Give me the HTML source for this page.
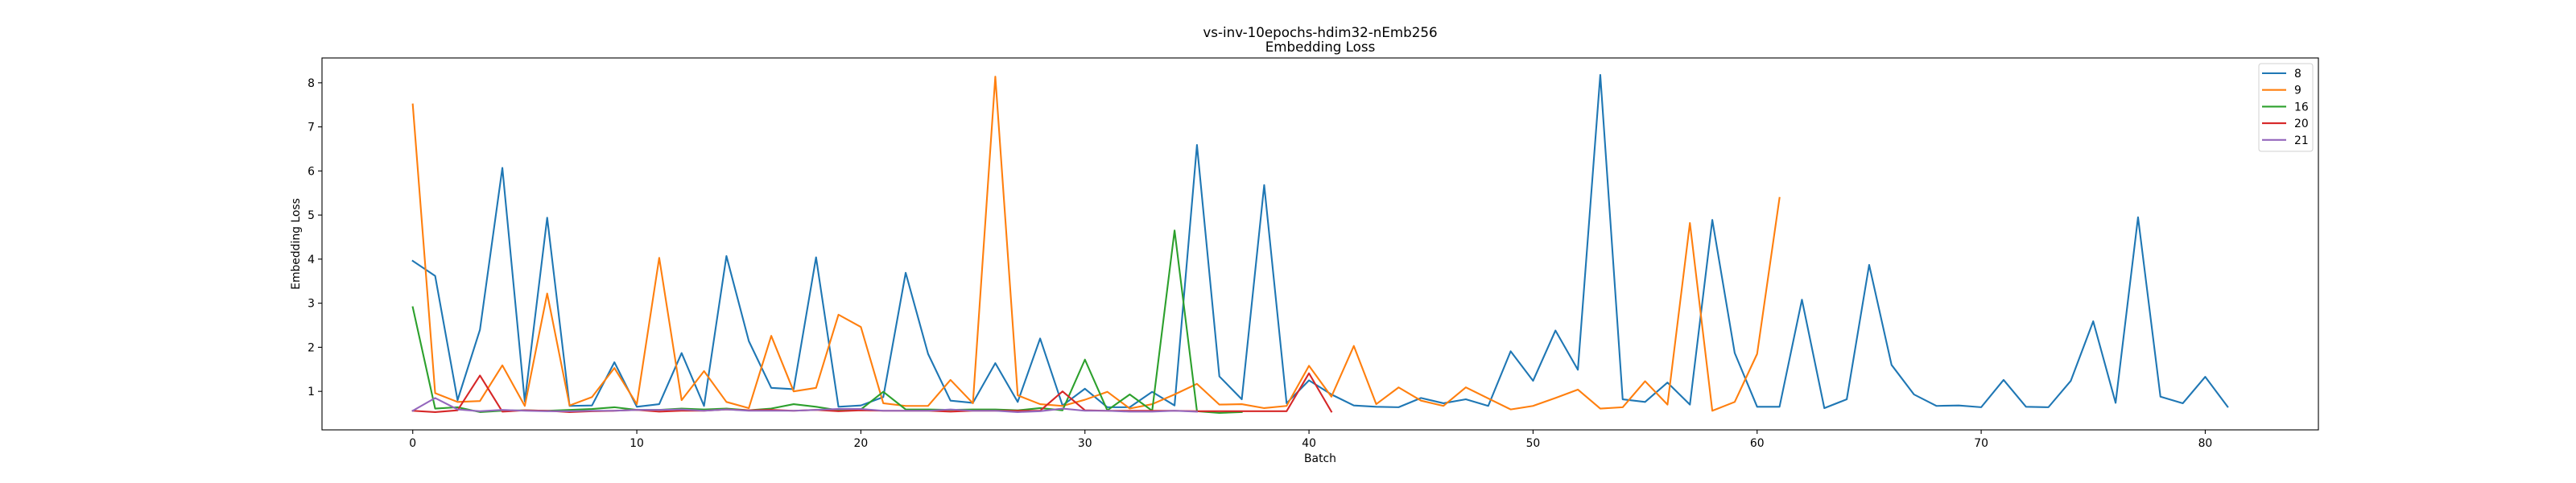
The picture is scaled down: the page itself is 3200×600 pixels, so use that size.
<!DOCTYPE html>
<html><head><meta charset="utf-8"><style>
html,body{margin:0;padding:0;background:#fff;}
svg{display:block;font-family:"DejaVu Sans","Liberation Sans",sans-serif;}
</style></head><body>
<svg id="chart" width="3200" height="600" viewBox="0 0 3200 600">
<rect x="0" y="0" width="3200" height="600" fill="#fff"/>
<text x="1640" y="46" font-size="16.7" text-anchor="middle">vs-inv-10epochs-hdim32-nEmb256</text>
<text x="1640" y="64" font-size="16.7" text-anchor="middle">Embedding Loss</text>
<g id="plot"></g>
<text x="1640" y="574" font-size="13.9" text-anchor="middle">Batch</text>
<text x="0" y="0" font-size="13.9" text-anchor="middle" transform="translate(372,303) rotate(-90)">Embedding Loss</text>
</svg>
<script>
const seriesNames = ["8","9","16","20","21"];
const seriesColors = ["#1f77b4","#ff7f0e","#2ca02c","#d62728","#9467bd"];
const s8 = [3.96,3.62,0.80,2.40,6.07,0.77,4.94,0.67,0.68,1.66,0.65,0.71,1.87,0.67,4.07,2.14,1.08,1.05,4.04,0.65,0.68,0.87,3.69,1.85,0.79,0.74,1.64,0.76,2.20,0.68,1.06,0.64,0.64,0.99,0.68,6.59,1.34,0.82,5.68,0.73,1.25,0.93,0.68,0.65,0.64,0.85,0.73,0.82,0.67,1.91,1.24,2.38,1.49,8.18,0.82,0.76,1.20,0.70,4.89,1.87,0.65,0.65,3.08,0.62,0.82,3.87,1.60,0.93,0.67,0.68,0.64,1.26,0.65,0.64,1.24,2.59,0.74,4.95,0.88,0.73,1.33,0.65];
const s9 = [7.51,0.96,0.76,0.78,1.59,0.67,3.22,0.68,0.87,1.53,0.71,4.03,0.80,1.46,0.76,0.62,2.26,1.00,1.08,2.74,2.46,0.73,0.67,0.67,1.26,0.73,8.14,0.91,0.71,0.67,0.81,0.99,0.61,0.71,0.93,1.17,0.70,0.71,0.62,0.67,1.58,0.88,2.03,0.71,1.09,0.79,0.67,1.09,0.84,0.59,0.67,0.85,1.04,0.61,0.64,1.23,0.70,4.82,0.56,0.76,1.85,5.39];
const s16 = [2.91,0.61,0.64,0.53,0.56,0.57,0.56,0.58,0.60,0.64,0.58,0.58,0.61,0.59,0.61,0.57,0.61,0.71,0.65,0.57,0.59,0.99,0.59,0.59,0.58,0.59,0.59,0.57,0.62,0.57,1.72,0.57,0.93,0.56,4.65,0.55,0.51,0.53];
const s20 = [0.56,0.53,0.57,1.36,0.54,0.57,0.56,0.53,0.55,0.56,0.58,0.54,0.56,0.56,0.59,0.57,0.58,0.56,0.58,0.55,0.57,0.56,0.56,0.56,0.54,0.56,0.56,0.56,0.56,1.00,0.57,0.56,0.56,0.56,0.56,0.55,0.55,0.55,0.55,0.55,1.41,0.54];
const s21 = [0.56,0.85,0.59,0.55,0.58,0.56,0.55,0.55,0.56,0.56,0.58,0.58,0.59,0.56,0.59,0.56,0.56,0.56,0.58,0.60,0.60,0.56,0.56,0.56,0.59,0.56,0.56,0.53,0.55,0.61,0.56,0.56,0.54,0.54,0.56,0.54];
const xTicks = [0,10,20,30,40,50,60,70,80];
const yTicks = [1,2,3,4,5,6,7,8];

const allSeries = [s8,s9,s16,s20,s21];
const NS = "http://www.w3.org/2000/svg";
const L = 400, R = 2880, T = 72, B = 534;
let maxLen = 0, ymin = Infinity, ymax = -Infinity;
allSeries.forEach(s => { maxLen = Math.max(maxLen, s.length); s.forEach(v => { ymin = Math.min(ymin, v); ymax = Math.max(ymax, v); }); });
const xmin0 = 0, xmax0 = maxLen - 1, xm = (xmax0 - xmin0) * 0.05;
const ym = (ymax - ymin) * 0.05;
const X0 = xmin0 - xm, X1 = xmax0 + xm, Y0 = ymin - ym, Y1 = ymax + ym;
function sx(v){ return L + (v - X0) / (X1 - X0) * (R - L); }
function sy(v){ return B - (v - Y0) / (Y1 - Y0) * (B - T); }
const plot = document.getElementById('plot');
function mk(tag, attrs){ const e = document.createElementNS(NS, tag); for (const k in attrs) e.setAttribute(k, attrs[k]); return e; }

allSeries.forEach((s, si) => {
  const pts = s.map((v, i) => sx(i).toFixed(2) + ',' + sy(v).toFixed(2)).join(' ');
  const pl = mk('polyline', {points: pts, fill: 'none', stroke: seriesColors[si], 'stroke-width': 2.1, 'stroke-linejoin': 'round', 'stroke-linecap': 'square'});
  
  
  plot.appendChild(pl);
});

const frame = mk('rect', {x: L, y: T, width: R - L, height: B - T, fill: 'none', stroke: '#000', 'stroke-width': 1.1});


plot.appendChild(frame);

xTicks.forEach(t => {
  const x = sx(t);
  const tl = mk('line', {x1: x, y1: B, x2: x, y2: B + 5, stroke: '#000', 'stroke-width': 1.1});
  
  
  plot.appendChild(tl);
  const tx = mk('text', {x: x, y: B + 21, 'font-size': 13.9, 'text-anchor': 'middle'});
  tx.textContent = t;
  
  
  plot.appendChild(tx);
});
yTicks.forEach(t => {
  const y = sy(t);
  const tl = mk('line', {x1: L - 5, y1: y, x2: L, y2: y, stroke: '#000', 'stroke-width': 1.1});
  
  
  plot.appendChild(tl);
  const tx = mk('text', {x: L - 9, y: y + 5, 'font-size': 13.9, 'text-anchor': 'end'});
  tx.textContent = t;
  
  
  plot.appendChild(tx);
});

const lg = mk('g', {});


const box = mk('rect', {x: 2806, y: 79, width: 67, height: 109, rx: 3, fill: '#fff', 'fill-opacity': 0.8, stroke: '#d0d0d0', 'stroke-width': 1});


lg.appendChild(box);
seriesNames.forEach((n, i) => {
  const y = 91 + i * 20.7;
  const ln = mk('line', {x1: 2810, y1: y, x2: 2840, y2: y, stroke: seriesColors[i], 'stroke-width': 2.1});
  
  
  lg.appendChild(ln);
  const tx = mk('text', {x: 2850, y: y + 5, 'font-size': 13.9});
  tx.textContent = n;
  
  
  lg.appendChild(tx);
});
plot.appendChild(lg);
</script>
</body></html>
